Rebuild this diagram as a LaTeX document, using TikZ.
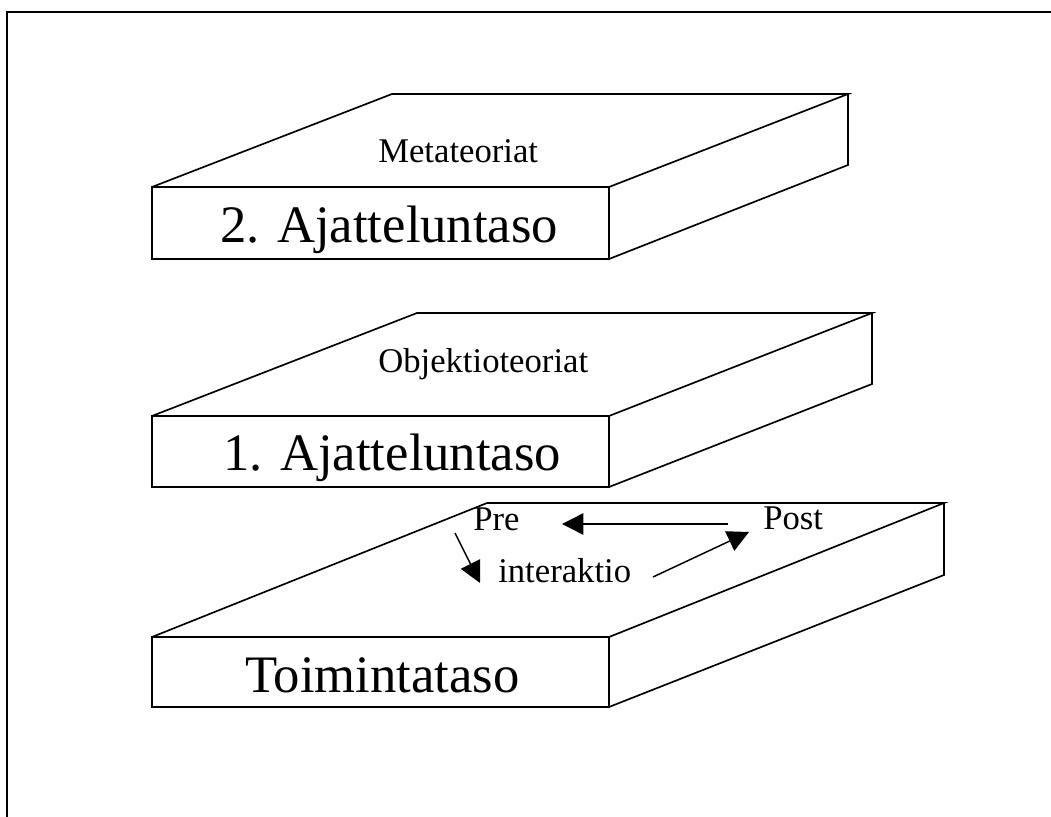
\documentclass[tikz,border=0pt]{standalone}
\usepackage{fontspec}
\setmainfont{Liberation Serif}
\usetikzlibrary{arrows.meta}
\begin{document}
\begin{tikzpicture}[x=0.75pt,y=-0.75pt,
  edge/.style={line width=1.25pt, line join=miter},
  frameline/.style={line width=1.5pt},
  biglabel/.style={anchor=base west, inner sep=0pt, font=\fontsize{39.5}{44}\selectfont},
  smalllabel/.style={anchor=base west, inner sep=0pt, font=\fontsize{26}{30}\selectfont},
  metalabel/.style={anchor=base west, inner sep=0pt, font=\fontsize{26}{30}\selectfont},
  arr/.style={line width=1.1pt, -{Triangle[length=16pt,width=16pt]}}]
\useasboundingbox (0,0) rectangle (1051,817);
% outer frame
\draw[frameline] (7,817) -- (7,12) -- (1051,12);
% slab 1
\draw[edge] (152,187) rectangle (609,259);
\draw[edge] (152,187) -- (392,94) -- (848,94) -- (609,187);
\draw[edge] (848,94) -- (848,165) -- (609,259);
% slab 2
\draw[edge] (152,416) rectangle (609,487);
\draw[edge] (152,416) -- (417,313) -- (872,313) -- (609,416);
\draw[edge] (872,313) -- (872,384) -- (609,487);
% slab 3
\draw[edge] (152,637) rectangle (609,707);
\draw[edge] (152,637) -- (487,503) -- (944,503) -- (609,637);
\draw[edge] (944,503) -- (944,575) -- (609,707);
% labels
\node[metalabel] (meta) at (378,162) {Metateoriat};
\node[biglabel] (lvl2) at (220,243) {2. Ajatteluntaso};
\node[smalllabel] (obj) at (378,372) {Objektioteoriat};
\node[biglabel] (lvl1) at (223,470) {1. Ajatteluntaso};
\node[biglabel] (toim) at (245,692) {Toimintataso};
\node[smalllabel] (pre) at (473,530) {Pre};
\node[smalllabel] (post) at (763,529) {Post};
\node[smalllabel] (inter) at (498,582) {interaktio};
% arrow endpoints
\coordinate (postW) at (728,524);
\coordinate (preE) at (562,524);
\coordinate (preS) at (455,533);
\coordinate (interW) at (480,583);
\coordinate (interE) at (653,577);
\coordinate (postSW) at (749,532);
\draw[arr] (postW) -- (preE);
\draw[arr] (preS) -- (interW);
\draw[arr] (interE) -- (postSW);
\end{tikzpicture}
\end{document}
